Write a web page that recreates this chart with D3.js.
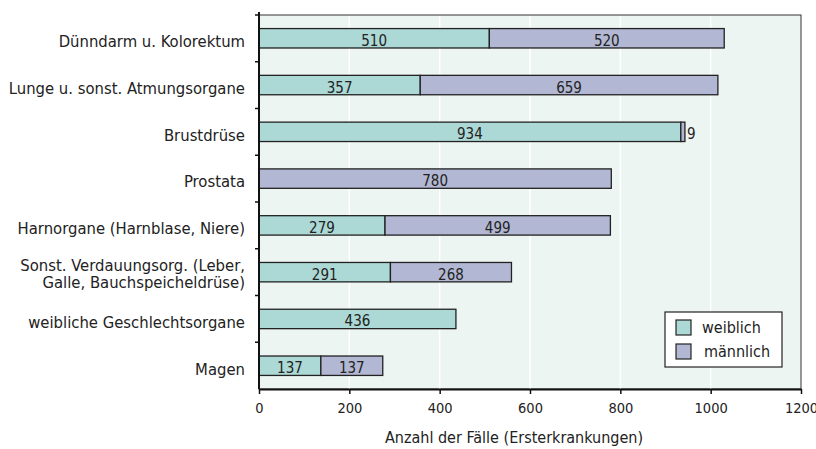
<!DOCTYPE html>
<html>
<head>
<meta charset="utf-8">
<script src="https://cdn.jsdelivr.net/npm/d3@7"></script>
<style>
  body { margin: 0; background: #fff; }
  text { font-family: "DejaVu Sans Condensed", "Liberation Sans Narrow", "Liberation Sans", sans-serif; font-stretch: condensed; fill: #222; }
</style>
</head>
<body>
<div id="container"></div>
<script>
// DATA
const categories = [
  "Dünndarm u. Kolorektum",
  "Lunge u. sonst. Atmungsorgane",
  "Brustdrüse",
  "Prostata",
  "Harnorgane (Harnblase, Niere)",
  "Sonst. Verdauungsorg. (Leber,\nGalle, Bauchspeicheldrüse)",
  "weibliche Geschlechtsorgane",
  "Magen"
]
const weiblich = [510, 357, 934, 0, 279, 291, 436, 137]
const maennlich = [520, 659, 9, 780, 499, 268, 0, 137]
const xTicks = [0, 200, 400, 600, 800, 1000, 1200]
const seriesNames = ["weiblich", "männlich"]

// VARIABLES
const width = 816, height = 449,
      margin = {top: 15, bottom: 60, left: 259, right: 15}
const colors = ["#acd8d5", "#b2b8d3"]

// SCALES
const xScale = d3.scaleLinear()
  .domain([0, 1200])
  .range([margin.left, width - margin.right])

const yScale = d3.scaleBand()
  .domain(categories)
  .range([margin.top, height - margin.bottom])
  .paddingInner(0.585)
  .paddingOuter(0.29)

const yBand = d3.scaleBand()
  .domain(categories)
  .range([margin.top, height - margin.bottom])

// ELEMENTS
const svg = d3.select("#container")
  .append("svg")
  .attr("width", width)
  .attr("height", height)

// plot background
svg.append("rect")
  .attr("x", xScale(0))
  .attr("y", margin.top)
  .attr("width", xScale(1200) - xScale(0))
  .attr("height", height - margin.bottom - margin.top)
  .attr("fill", "#edf5f2")
  .attr("stroke", "#333")
  .attr("stroke-width", 1)

// grid
svg.append("g")
  .selectAll("line")
  .data(xTicks.slice(1, -1))
  .join("line")
  .attr("x1", d => xScale(d))
  .attr("x2", d => xScale(d))
  .attr("y1", margin.top + 1)
  .attr("y2", height - margin.bottom)
  .attr("stroke", "#fff")
  .attr("stroke-width", 1.5)

// bars
const stacked = categories.map((c, i) => [
  {cat: c, s: 0, x0: 0, x1: weiblich[i], v: weiblich[i]},
  {cat: c, s: 1, x0: weiblich[i], x1: weiblich[i] + maennlich[i], v: maennlich[i]}
]).flat().filter(d => d.v > 0)

svg.append("g")
  .selectAll("rect")
  .data(stacked)
  .join("rect")
  .attr("x", d => xScale(d.x0))
  .attr("y", d => yScale(d.cat))
  .attr("width", d => xScale(d.x1) - xScale(d.x0))
  .attr("height", yScale.bandwidth())
  .attr("fill", d => colors[d.s])
  .attr("stroke", "#222")
  .attr("stroke-width", 1.3)

svg.append("g")
  .selectAll("text")
  .data(stacked)
  .join("text")
  .attr("x", d => d.v < 30 ? xScale(d.x1) + 2 : (xScale(d.x0) + xScale(d.x1)) / 2)
  .attr("y", d => yScale(d.cat) + yScale.bandwidth() / 2 + 7.5)
  .attr("text-anchor", d => d.v < 30 ? "start" : "middle")
  .attr("font-size", 15)
  .text(d => d.v)

// axes
const xAxis = d3.axisBottom(xScale).tickValues(xTicks).tickFormat(d3.format("d")).tickSize(5).tickSizeOuter(0)

const gx = svg.append("g")
  .attr("transform", `translate(0,${height - margin.bottom})`)
  .call(xAxis)
gx.select(".domain").attr("stroke", "#111").attr("stroke-width", 2)
gx.selectAll(".tick line").attr("stroke", "#111").attr("stroke-width", 1.5)
gx.selectAll(".tick text")
  .attr("font-size", 14.5)
  .attr("dy", "1.1em")
  .attr("fill", "#222")

const gy = svg.append("g")
  .attr("transform", `translate(${margin.left},0)`)
gy.append("line")
  .attr("y1", margin.top - 3)
  .attr("y2", height - margin.bottom)
  .attr("stroke", "#111")
  .attr("stroke-width", 2)
gy.selectAll(".yt")
  .data(yBand.domain())
  .join("line")
  .attr("class", "yt")
  .attr("x1", -4)
  .attr("x2", 0)
  .attr("y1", d => yBand(d))
  .attr("y2", d => yBand(d))
  .attr("stroke", "#111")
  .attr("stroke-width", 1.5)

// category labels
svg.append("g")
  .selectAll("text")
  .data(categories)
  .join("text")
  .attr("text-anchor", "end")
  .attr("font-size", 16.5)
  .attr("x", margin.left - 14)
  .attr("y", d => yScale(d) + yScale.bandwidth() / 2 + (d.includes("\n") ? 1.5 : 3))
  .each(function(d) {
    const lines = d.split("\n")
    const t = d3.select(this)
    lines.forEach((l, j) => {
      t.append("tspan")
        .attr("x", margin.left - 14)
        .attr("dy", j === 0 ? (0.35 - (lines.length - 1) * 0.52) + "em" : "1.04em")
        .text(l)
    })
  })

// axis title
svg.append("text")
  .attr("x", 514)
  .attr("y", 443)
  .attr("text-anchor", "middle")
  .attr("font-size", 16)
  .text("Anzahl der Fälle (Ersterkrankungen)")

// legend
const legend = svg.append("g").attr("transform", "translate(665,312)")
legend.append("rect")
  .attr("width", 117)
  .attr("height", 55)
  .attr("fill", "#fff")
  .attr("stroke", "#222")
  .attr("stroke-width", 1.2)
legend.selectAll(".sw")
  .data(seriesNames)
  .join("rect")
  .attr("class", "sw")
  .attr("x", 11)
  .attr("y", (d, i) => 8 + i * 24)
  .attr("width", 15)
  .attr("height", 15)
  .attr("fill", (d, i) => colors[i])
  .attr("stroke", "#222")
  .attr("stroke-width", 1.2)
legend.selectAll(".lt")
  .data(seriesNames)
  .join("text")
  .attr("class", "lt")
  .attr("x", (d, i) => 37 + i * 2)
  .attr("y", (d, i) => 21 + i * 24)
  .attr("font-size", 16)
  .text(d => d)
</script>
</body>
</html>
